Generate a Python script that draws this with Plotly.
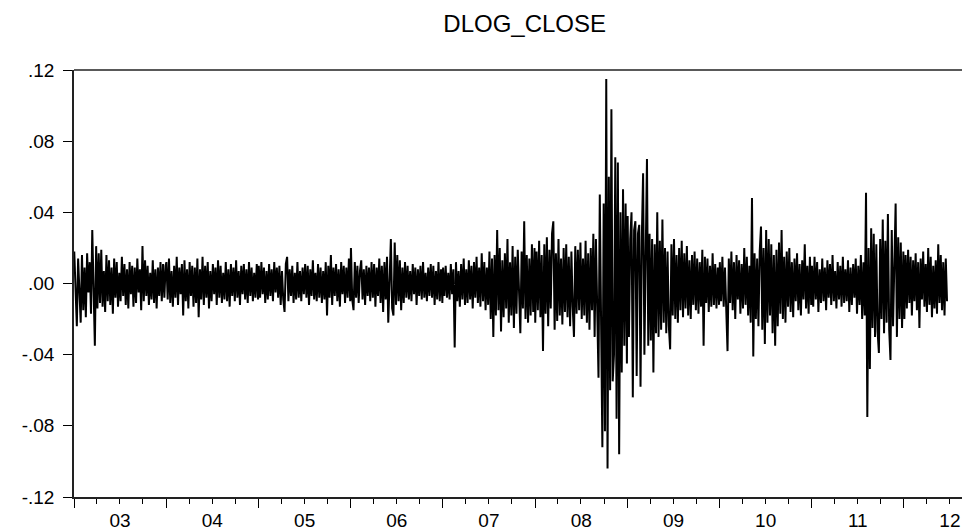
import pandas as pd
import plotly.graph_objects as go

y2003 = [18, -10, -24, 14, -6, -22, 16, -15, 9, -19, 17, -5, 12, -17, 30, -8, -35, 21, -14, 17,
         -11, 19, -13, 7, -16, 16, -10, 13, -12, 9, -17, 14, -8, 12, -13, 6, -10, 15, -7, 11,
         -12, 8, -14, 12, -6, 10, -13, 9, -11, 14, -5, 8, -15, 21, -10, 13, -7, 10, -12, 6,
         -9, 13, -11, 8, -14, 9, -7, 12, -10, 11, -8, 10]
y2004 = [12, -9, 14, -11, 7, -13, 10, -8, 15, -12, 9, -6, 11, -18, 13, -10, 8, -14, 12, -7,
         10, -13, 9, -11, 14, -19, 8, -9, 15, -12, 10, -8, 12, -14, 7, -10, 11, -6, 9, -12,
         13, -8, 10, -11, 6, -9, 12, -10, 8, -13, 11, -7, 9, -10, 13, -8, 7, -12, 10, -6,
         11, -9, 8, -11, 12, -7, 9, -10, 6, -8, 11, -9]
y2005 = [10, -8, 12, -6, 9, -11, 7, -9, 11, -7, 8, -10, 12, -5, 9, -8, 10, -12, 7, -9,
         -16, 11, 15, -10, 8, -7, 10, -11, 6, -9, 12, -8, 7, -10, 9, -6, 11, -8, 10, -12,
         8, -7, 13, -9, 6, -10, 11, -8, 9, -11, 7, -9, 12, -18, 10, -8, 16, -12, 9, -7,
         11, -10, 8, -13, 12, -6, 10, -11, 9, -8, 14, -10]
y2006 = [20, -9, -15, 12, -8, 10, -11, 7, 13, -9, 8, -12, 10, -7, 9, -10, 12, -8, 11, -13,
         9, -7, 14, -11, 10, -16, 12, -9, 15, -22, 11, 25, -14, -18, 23, -12, 16, -10, 13, -15,
         9, -11, 12, -8, 10, -9, 7, -10, 11, -6, 9, -12, 8, -7, 10, -9, 12, -8, 6, -10,
         9, -7, 11, -8, 10, -12, 7, -9, 12, -10, 8, -11]
y2007 = [9, -7, 10, -8, 6, -9, 11, -6, 8, -36, 12, -10, 7, -13, 11, -9, 14, -12, 8, -11,
         13, -9, 10, -14, 12, -8, 15, -11, 9, -13, 17, -10, 12, -15, 9, -12, 18, -20, 14, -30,
         16, -18, 30, -15, 20, -27, 13, -19, 17, -14, 25, -22, 12, -18, 21, -25, 15, -17, 19, -12,
         -28, 18, -14, 35, -20, 16, -22, 14, -18, 22, -16, 20]
y2008 = [-22, 18, -15, 24, -19, 16, -38, 22, -17, 26, -24, 19, -14, 28, 35, -26, 17, -21, 25, -18,
         14, -23, 20, -16, 22, -19, 15, -24, 18, -13, -30, 21, -17, 19, -15, 23, -20, 14, -18, 24,
         -22, 17, -26, 20, -15, 28, -30, 25, -22, -53, 50, -35, -92, 45, -83, 115, -104, 60, -60, 98,
         -55, -40, 71, -76, 68, -96, 40, -50, 53, -35, 45, -45]
y2009 = [38, -30, 25, 40, -64, 30, 35, -52, 28, 33, -58, 26, 62, -40, 30, 70, -35, 28, -32, 25,
         -50, 22, -28, 40, -30, 24, -26, 36, -22, 20, -28, 18, -24, -37, 22, -18, 25, -20, 16, -22,
         20, -15, 24, -19, 17, -14, 21, -18, 13, -20, 16, -12, 18, -15, 14, -17, 12, -13, 19, -35,
         15, -11, 14, -16, 10, -13, 17, -12, 11, -14, 9, -12]
y2010 = [12, -10, 15, -13, 9, -16, -38, 14, -11, 18, -15, 12, -20, 16, -9, 13, -17, 11, -14, 20,
         -12, 15, -18, 10, -22, 48, -41, 17, -20, 14, -24, 18, 32, -26, 20, -34, 30, -22, 25, -18,
         22, -28, 16, -35, 19, -24, 23, -17, 30, -20, 15, -22, 18, -13, 20, -16, 12, -19, 14, -10,
         17, -15, 11, -18, 13, -9, 22, -14, 10, -17, 15, -12]
y2011 = [10, -13, 15, -9, 12, -16, 8, -11, 14, -10, 9, -15, 13, -8, 11, -12, 16, -10, 7, -14,
         12, -9, 10, -13, 15, -11, 8, -10, 13, -16, 9, -12, 11, -8, 14, -17, 10, -12, 16, -20,
         12, -18, 51, -75, 20, -48, 31, -25, 28, -30, 22, -27, -39, 25, -20, 36, -28, 24, -22, 39,
         -26, -43, 30, -24, 21, 45, -30, 26, -20, 23, -25, 18]
y2012 = [-20, 16, -14, 19, -11, 15, -18, 13, -10, 17, -15, 12, -25, 14, -9, 18, -13, 11, -16, 20,
         -12, 15, -19, 10, -14, 13, -17, 22, -11, 16, -15, 12, -18, 14, -10]

year_values = {2003: y2003, 2004: y2004, 2005: y2005, 2006: y2006, 2007: y2007,
               2008: y2008, 2009: y2009, 2010: y2010, 2011: y2011, 2012: y2012}
year_spans = {y: (f"{y}-01-02", f"{y}-12-30") for y in range(2003, 2012)}
year_spans[2012] = ("2012-01-03", "2012-06-20")

ytick_vals = [-0.12, -0.08, -0.04, 0.0, 0.04, 0.08, 0.12]
ytick_text = ["-.12", "-.08", "-.04", ".00", ".04", ".08", ".12"]

dates, values = [], []
for yr, vals in year_values.items():
    s, e = year_spans[yr]
    dates.extend(pd.date_range(s, e, periods=len(vals)))
    values.extend(v / 1000.0 for v in vals)

fig = go.Figure()
fig.add_trace(go.Scatter(x=dates, y=values, mode="lines",
                         line=dict(color="black", width=2.0), showlegend=False))

# the page body has an 8px margin, so the figure is sized to fit the 970x532 window
W, H = 962, 524
FONT = "Liberation Sans, Arial, sans-serif"
fig.update_layout(
    width=W, height=H,
    margin=dict(l=66, r=0, t=62, b=35),
    paper_bgcolor="white", plot_bgcolor="white",
    font=dict(family=FONT, size=19, color="black"),
    title=dict(text="DLOG_CLOSE", x=0.503, xref="paper", xanchor="center",
               y=1 - 16 / H, yref="container", yanchor="middle",
               font=dict(family=FONT, size=24, color="black")),
    showlegend=False,
)
fig.update_xaxes(
    type="date", range=["2003-01-01", "2012-09-19"],
    dtick="M12", tick0="2003-01-01", tickformat="%y", ticklabelmode="period",
    ticks="outside", ticklen=9, tickwidth=1, tickcolor="black",
    showline=True, linecolor="#222", linewidth=1.5, showgrid=False, zeroline=False,
    minor=dict(dtick="M3", tick0="2003-01-01", ticks="outside", ticklen=5,
               tickwidth=1, tickcolor="black", showgrid=False),
    tickfont=dict(size=19), automargin=False, ticklabelstandoff=-4,
)
fig.update_yaxes(
    range=[-0.12, 0.12], tickvals=ytick_vals, ticktext=ytick_text,
    ticks="outside", ticklen=9, tickwidth=1, tickcolor="black",
    showline=True, linecolor="#222", linewidth=1.5, showgrid=False, zeroline=False,
    tickfont=dict(size=19), automargin=False, ticklabelstandoff=5,
)
fig.add_shape(type="line", xref="paper", yref="paper", x0=0, x1=1, y0=1, y1=1,
              line=dict(color="#222", width=1.5))

fig.write_html("out.html")
